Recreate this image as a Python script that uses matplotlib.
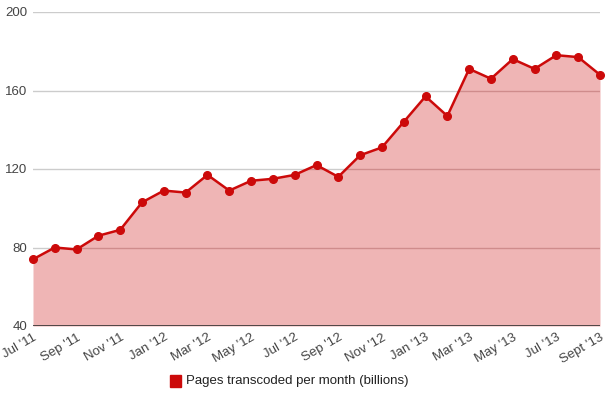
import matplotlib
matplotlib.use("Agg")
import matplotlib.pyplot as plt

# monthly values, Jul '11 .. Sept '13
months = [
    "Jul '11", "Aug '11", "Sep '11", "Oct '11", "Nov '11", "Dec '11",
    "Jan '12", "Feb '12", "Mar '12", "Apr '12", "May '12", "Jun '12",
    "Jul '12", "Aug '12", "Sep '12", "Oct '12", "Nov '12", "Dec '12",
    "Jan '13", "Feb '13", "Mar '13", "Apr '13", "May '13", "Jun '13",
    "Jul '13", "Aug '13", "Sept '13",
]
pages = [
    74, 80, 79, 86, 89, 103, 109, 108, 117, 109, 114, 115,
    117, 122, 116, 127, 131, 144, 157, 147, 171, 166, 176, 171,
    178, 177, 168,
]
y_ticks = [40, 80, 120, 160, 200]
series_label = "Pages transcoded per month (billions)"

plt.rcParams["font.family"] = ["Liberation Sans", "DejaVu Sans"]

fig = plt.figure(figsize=(6.09, 3.95), dpi=100)
ax = fig.add_axes([33 / 609, 1 - 326 / 395, 567 / 609, 314 / 395])

x = list(range(len(pages)))
line_c = "#cc0a0a"
area = ax.fill_between(x, pages, 40, color="#efb5b5", lw=0, zorder=1)
for t in y_ticks[1:]:
    ax.axhline(t, color="#cccccc", lw=1, zorder=0)
    # darker grid line where it crosses the filled area
    over = ax.axhline(t, color="#a05050", lw=1, alpha=0.4, zorder=2)
    over.set_clip_path(area.get_paths()[0], ax.transData)
ax.plot(x, pages, color=line_c, lw=1.8, marker="o", ms=5.5, zorder=3,
        clip_on=False)
ax.axhline(40, color="#333333", lw=1.2, zorder=4)

ax.set_xlim(0, len(pages) - 1)
ax.set_ylim(40, 200)
ax.set_yticks(y_ticks)
ax.set_yticklabels([str(t) for t in y_ticks], fontsize=9.5, color="#444444")
ax.set_xticks(x[::2])
ax.set_xticklabels(months[::2], rotation=30, ha="right", rotation_mode="anchor",
                   fontsize=9.5, color="#444444")
ax.tick_params(length=0, pad=4)
for s in ax.spines.values():
    s.set_visible(False)

# legend below the chart
fig.patches.append(plt.Rectangle((170 / 609, 1 - 387 / 395), 11 / 609, 12 / 395,
                                 transform=fig.transFigure, color=line_c))
fig.text(186 / 609, 1 - 381 / 395, series_label, fontsize=9.5, color="#222222",
         va="center", ha="left")

fig.savefig("out.png", dpi=100)
